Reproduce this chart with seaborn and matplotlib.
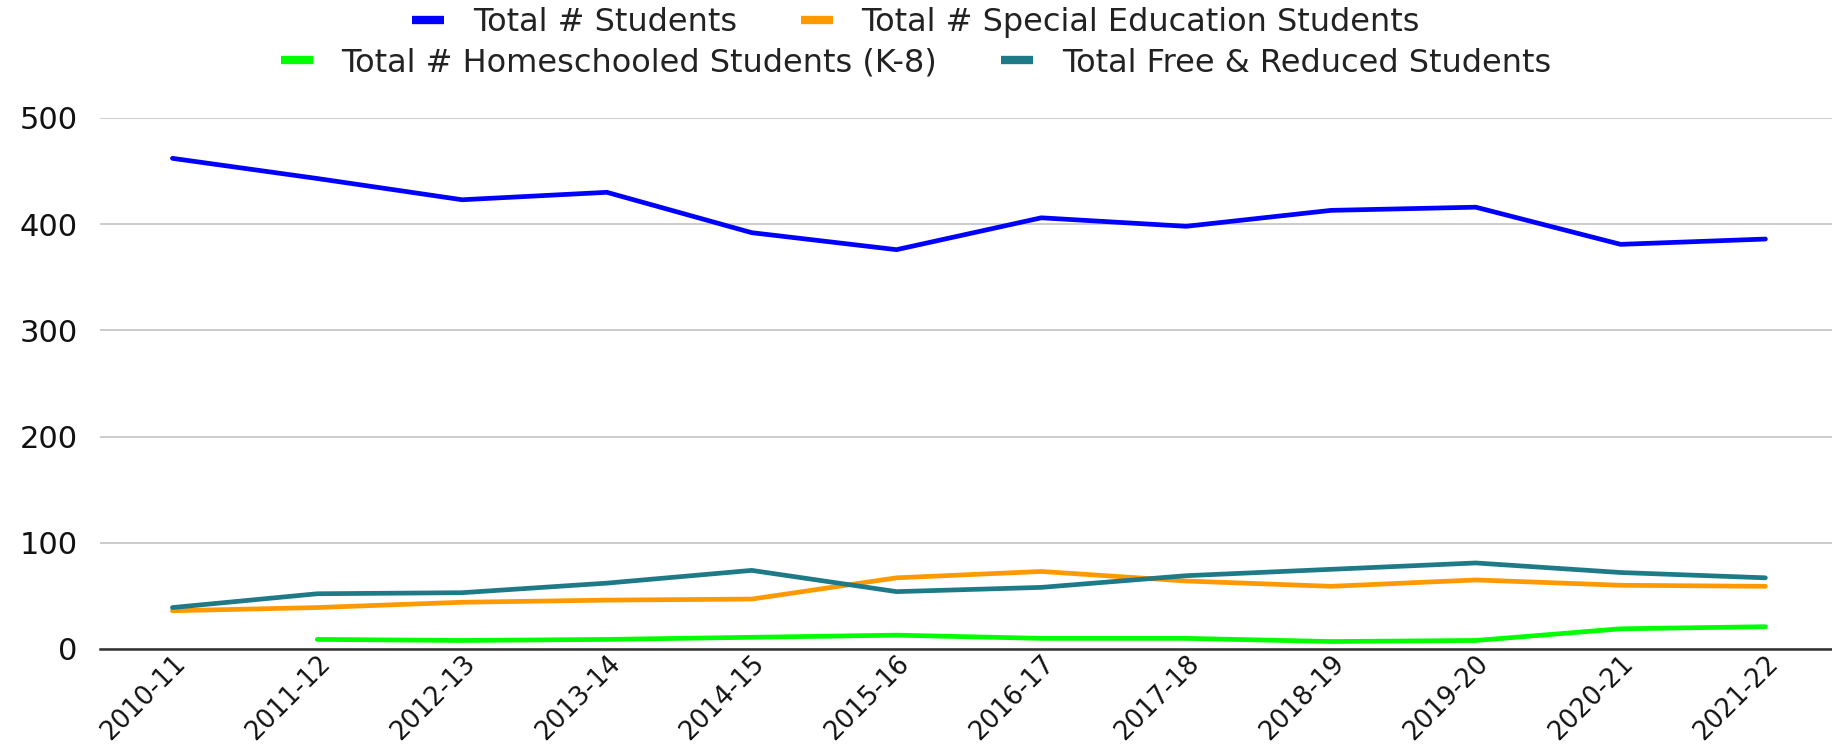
import matplotlib
matplotlib.use("Agg")

import numpy as np
import pandas as pd
import matplotlib.pyplot as plt
import seaborn as sns
from matplotlib.lines import Line2D

# Data
years = ["2010-11", "2011-12", "2012-13", "2013-14", "2014-15", "2015-16",
         "2016-17", "2017-18", "2018-19", "2019-20", "2020-21", "2021-22"]
total_students = [462, 443, 423, 430, 392, 376, 406, 398, 413, 416, 381, 386]
special_ed = [36, 39, 44, 46, 47, 67, 73, 64, 59, 65, 60, 59]
homeschooled = [np.nan, 9, 8, 9, 11, 13, 10, 10, 7, 8, 19, 21]
free_reduced = [39, 52, 53, 62, 74, 54, 58, 69, 75, 81, 72, 67]

series_names = ["Total # Students", "Total # Special Education Students",
                "Total # Homeschooled Students (K-8)", "Total Free & Reduced Students"]
colors = ["#0000ff", "#ff9900", "#00ff00", "#1f7a87"]

df = pd.DataFrame({"year": years,
                   series_names[0]: total_students,
                   series_names[1]: special_ed,
                   series_names[2]: homeschooled,
                   series_names[3]: free_reduced})
long_df = df.melt(id_vars="year", var_name="series", value_name="count")

sns.set_style("white")
plt.rcParams["font.family"] = ["DejaVu Sans"]

fig = plt.figure(figsize=(18.32, 7.5), dpi=100)
ax = fig.add_axes([0.0546, 0.1347, 0.9454, 0.708])

sns.lineplot(data=long_df, x="year", y="count", hue="series",
             hue_order=series_names, palette=colors, linewidth=3.4,
             errorbar=None, legend=False, sort=False, ax=ax)

ax.set_xlim(-0.5, 11.46)
ax.set_ylim(0, 500)
ax.set_yticks([0, 100, 200, 300, 400, 500])
ax.set_xlabel("")
ax.set_ylabel("")
ax.grid(axis="y", color="#cccccc", linewidth=1.4)
ax.grid(axis="x", visible=False)
ax.set_axisbelow(True)
for side in ["top", "right", "left"]:
    ax.spines[side].set_visible(False)
ax.spines["bottom"].set_color("#333333")
ax.spines["bottom"].set_linewidth(1.8)

ax.tick_params(axis="y", length=0, pad=16, labelsize=22, colors="#111111")
ax.tick_params(axis="x", length=0, pad=1, labelsize=18.5, colors="#111111")
plt.setp(ax.get_xticklabels(), rotation=45, ha="right", rotation_mode="anchor")

handles = [Line2D([0], [0], color=c, linewidth=6, solid_capstyle="butt") for c in colors]
leg_kw = dict(ncol=2, frameon=False, fontsize=23, handlelength=1.0,
              handletextpad=0.9, columnspacing=2.0, borderaxespad=0)
leg1 = fig.legend(handles[:2], series_names[:2], loc="center",
                  bbox_to_anchor=(0.5, 0.97), **leg_kw)
for t in leg1.get_texts():
    t.set_color("#222222")
leg2 = fig.legend(handles[2:], series_names[2:], loc="center",
                  bbox_to_anchor=(0.5, 0.916), **leg_kw)
for t in leg2.get_texts():
    t.set_color("#222222")

fig.savefig("out.png", dpi=100)
plt.close(fig)
